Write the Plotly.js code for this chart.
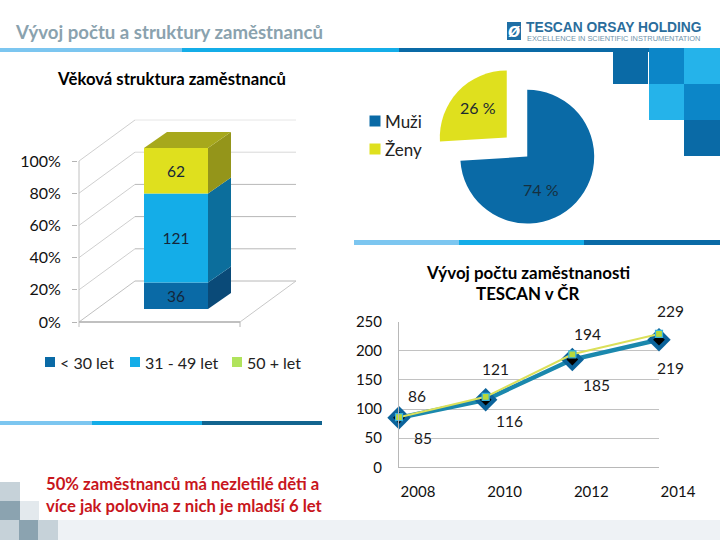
<!DOCTYPE html>
<html><head><meta charset="utf-8">
<script src="https://cdn.plot.ly/plotly-3.0.1.min.js"></script>
<style>html,body{margin:0;padding:0;background:#fff}#c{width:720px;height:540px}</style>
</head><body><div id="c"></div>
<script>
// ---- data ----
var ageGroups = ['< 30 let', '31 - 49 let', '50 + let'];
var ageCounts = [36, 121, 62];
var genderLabels = ['Muži', 'Ženy'];
var genderShares = [74, 26];
var genderText = ['74 %', '26 %'];
var years = ['2008', '2010', '2012', '2014'];
var lowerSeries = [85, 116, 185, 219];
var upperSeries = [86, 121, 194, 229];
var yTicksPct = [0, 20, 40, 60, 80, 100];
var yTicksCount = [0, 50, 100, 150, 200, 250];

// ---- styles ----
var F = 'Lato, "Open Sans", sans-serif';
var DARK = '#0a6aa6', CYAN = '#14ade8', LIGHT = '#7cc6f0', MID = '#0c86c8', SKY = '#25b3ea';
var YEL = '#dfe01e', LIME = '#b0e35c';
var W = 720, H = 540;
function px(v) { return v / W; }
function py(v) { return 1 - v / H; }
function rect(x0, y0, x1, y1, c) {
  return {type: 'rect', xref: 'paper', yref: 'paper', x0: px(x0), x1: px(x1), y0: py(y0), y1: py(y1),
    fillcolor: c, line: {width: 0}, layer: 'below'};
}
var shapes = [];
shapes.push(rect(0, 520, 720, 540, '#eef2f5'));
[[0,482,20,501,'#c6d2d9'],[0,501,20,520,'#8ba3b0'],[20,501,39,520,'#e3e9ed'],
 [0,520,19,540,'#c6d2d9'],[19,520,38,540,'#8ba3b0'],[38,520,58,540,'#c6d2d9'],
 [0,48,182,52,LIGHT],[182,48,399,52,CYAN],[399,48,720,52,DARK],
 [354,240,459,245,LIGHT],[459,240,584,245,CYAN],[584,240,720,245,DARK],
 [0,421,92,425,LIGHT],[92,421,202,425,CYAN],[202,421,322,425,'#12648f'],
 [613,48,648,84,DARK],[649,48,684,84,MID],[684,48,720,84,SKY],
 [649,84,684,120,SKY],[684,84,720,120,MID],[684,120,720,156,DARK],
 [507,22,521,40,'#1f6fa5']].forEach(function (s) {
  shapes.push(rect(s[0], s[1], s[2], s[3], s[4]));
});

// ---- oblique box of the stacked chart: x units are pixels from the front left corner, y units are percent ----
var boxL = 78, boxR = 297, boxT = 119, boxB = 329, zeroPx = 322;
var pctPx = 1.61, tickPct = 5 / pctPx;
var wallDx = 56, wallDy = 41 / pctPx, frontW = 161;
var barX = 97, barW = 64, barLift = 13 / pctPx, sideDx = 23, sideDy = 16 / pctPx;
var total = ageCounts.reduce(function (a, b) { return a + b; }, 0);
var agePct = ageCounts.map(function (c) { return c / total * 100; });
function seg(x0, y0, x1, y1, c, w) {
  return {type: 'line', xref: 'x', yref: 'y', x0: x0, y0: y0, x1: x1, y1: y1, layer: 'below',
    line: {color: c, width: w || 1}};
}
yTicksPct.forEach(function (p) {
  var c = p === 100 ? '#e6e6e6' : (p === 80 ? '#d8d8d8' : '#b8b8b8');
  shapes.push(seg(0, p, wallDx, p + wallDy, p === 0 ? '#c0c0c0' : '#cfcfcf'));
  shapes.push(seg(wallDx, p + wallDy, wallDx + frontW, p + wallDy, c));
});
shapes.push(seg(0, 0, frontW, 0, '#ababab', 1.5));
shapes.push(seg(frontW, 0, frontW + wallDx, wallDy, '#c8c8c8'));
shapes.push(seg(0, -tickPct, 0, 100, '#c0c0c0'));
shapes.push(seg(frontW, -tickPct, frontW, 0, '#b4b4b4'));
var sideColors = ['#0a4a78', '#0c6e9c', '#94951a'];
var faceColors = [DARK, CYAN, YEL];
var cum = 0, barBase = [];
var xr = barX + barW / 2, xl = barX - barW / 2;
function poly(pts, c) {
  var d = pts.map(function (p, i) { return (i ? 'L' : 'M') + p[0] + ',' + p[1]; }).join('') + 'Z';
  return {type: 'path', xref: 'x', yref: 'y', path: d, fillcolor: c, line: {width: 0}, layer: 'below'};
}
agePct.forEach(function (v, i) {
  var b = cum + barLift, t = b + v;
  barBase.push(b);
  shapes.push(poly([[xr, b], [xr + sideDx, b + sideDy], [xr + sideDx, t + sideDy], [xr, t]], sideColors[i]));
  cum += v;
});
var barTop = cum + barLift;
shapes.push(poly([[xl, barTop], [xl + sideDx, barTop + sideDy], [xr + sideDx, barTop + sideDy], [xr, barTop]], '#a7a81c'));

// ---- traces ----
var traces = [];
ageGroups.forEach(function (g, i) {
  traces.push({type: 'bar', x: [barX], y: [agePct[i]], base: [barBase[i]], width: [barW], name: g,
    marker: {color: faceColors[i], line: {width: 0}}, text: [String(ageCounts[i])],
    textposition: 'inside', insidetextanchor: 'middle', textangle: 0,
    textfont: {family: F, size: 15.5, color: '#14263a'}, hoverinfo: 'skip', showlegend: false, xaxis: 'x', yaxis: 'y'});
});
traces.push({type: 'pie', labels: genderLabels, values: genderShares, textinfo: 'none',
  sort: false, direction: 'clockwise', rotation: 0, pull: 0.21,
  domain: {x: [px(436), px(598)], y: [py(228), py(66)]},
  marker: {colors: [DARK, YEL], line: {width: 0}}, showlegend: false, hoverinfo: 'skip'});
traces.push({type: 'scatter', mode: 'lines+markers', x: years, y: lowerSeries, xaxis: 'x2', yaxis: 'y2',
  line: {color: '#1b88ad', width: 4.5}, marker: {symbol: 'diamond', size: 18, color: '#0b639b', line: {width: 0}},
  showlegend: false, cliponaxis: false, hoverinfo: 'skip', name: 'lower'});
traces.push({type: 'scatter', mode: 'markers', x: years, y: lowerSeries, xaxis: 'x2', yaxis: 'y2',
  marker: {symbol: 'diamond', size: 9, color: '#000'}, showlegend: false, cliponaxis: false, hoverinfo: 'skip', name: 'lower inner'});
traces.push({type: 'scatter', mode: 'lines+markers', x: years, y: upperSeries, xaxis: 'x2', yaxis: 'y2',
  line: {color: '#dbe05a', width: 2}, marker: {symbol: 'square', size: 7, color: '#b7d83c', line: {color: '#37b3dc', width: 1.2}},
  showlegend: false, cliponaxis: false, hoverinfo: 'skip', name: 'upper'});

// ---- annotations ----
function note(t, x, y, o) {
  var a = {text: t, xref: 'paper', yref: 'paper', x: px(x), y: py(y), showarrow: false,
    xanchor: 'center', yanchor: 'middle', font: {family: F, size: 15, color: '#111'}};
  for (var k in o) a[k] = o[k];
  return a;
}
var annotations = [
  note('<b>Věková struktura zaměstnanců</b>', 171, 79, {font: {family: F, size: 16.7, color: '#000'}}),
  note('<b>Vývoj počtu zaměstnanosti</b>', 528, 272, {font: {family: F, size: 16.9, color: '#000'}}),
  note('<b>TESCAN v ČR</b>', 528, 293, {font: {family: F, size: 16.9, color: '#000'}}),
  note('<b>50% zaměstnanců má nezletilé děti a</b>', 44, 484, {xanchor: 'left', font: {family: F, size: 16.7, color: '#c8161c'}}),
  note('<b>více jak polovina z nich je mladší 6 let</b>', 44, 506, {xanchor: 'left', font: {family: F, size: 16.7, color: '#c8161c'}}),
  note('<b>TESCAN ORSAY HOLDING</b>', 524, 27, {xanchor: 'left', font: {family: 'Liberation Sans', size: 13.8, color: '#2a6d9c'}}),
  note('EXCELLENCE IN SCIENTIFIC INSTRUMENTATION', 525, 38.5, {xanchor: 'left', font: {family: 'Liberation Sans', size: 7.4, color: '#6f93ab'}}),
  note('<b><i>ø</i></b>', 514, 30, {font: {family: 'Liberation Sans', size: 20, color: '#fff'}}),
  note(genderText[0], 541, 189, {font: {family: F, size: 16, color: '#16303f'}}),
  note(genderText[1], 478, 108, {font: {family: F, size: 16, color: '#1c2a30'}})
];
// legends
var ageSwatch = [45, 130, 232], ageColors = [DARK, CYAN, LIME];
ageGroups.forEach(function (g, i) {
  shapes.push(rect(ageSwatch[i], 357, ageSwatch[i] + 10, 367, ageColors[i]));
  annotations.push(note(g, ageSwatch[i] + 13, 362, {xanchor: 'left', font: {family: F, size: 16, color: '#222'}}));
});
var genderY = [121, 149], genderColors = [DARK, YEL];
genderLabels.forEach(function (g, i) {
  shapes.push(rect(369.5, genderY[i] - 5.5, 380.5, genderY[i] + 5.5, genderColors[i]));
  annotations.push(note(g, 383, genderY[i], {xanchor: 'left', font: {family: F, size: 17, color: '#222'}}));
});
// line chart value labels
var lowDx = [24, 24, 24, 11], lowDy = [-20, -21, -25, -28];
var upDx = [18, 10, 15, 11], upDy = [21, 28, 20, 23];
years.forEach(function (yr, i) {
  annotations.push({text: String(lowerSeries[i]), xref: 'x2', yref: 'y2', x: i, y: lowerSeries[i], showarrow: false,
    xshift: lowDx[i], yshift: lowDy[i], font: {family: F, size: 15.5, color: '#1a1a1a'}});
  annotations.push({text: String(upperSeries[i]), xref: 'x2', yref: 'y2', x: i, y: upperSeries[i], showarrow: false,
    xshift: upDx[i], yshift: upDy[i], font: {family: F, size: 15.5, color: '#1a1a1a'}});
});

var layout = {
  width: W, height: H, autosize: false, margin: {l: 0, r: 0, t: 0, b: 0},
  paper_bgcolor: '#fff', plot_bgcolor: 'rgba(0,0,0,0)', barmode: 'overlay', showlegend: false,
  title: {text: '<b>Vývoj počtu a struktury zaměstnanců</b>', xref: 'paper', yref: 'paper', x: px(16), xanchor: 'left',
    y: py(32), yanchor: 'middle', font: {family: F, size: 18.6, color: '#8aa2ae'}},
  xaxis: {domain: [px(boxL), px(boxR)], range: [boxL - 79, boxR - 79], anchor: 'y', showgrid: false, zeroline: false,
    showticklabels: false, ticks: '', showline: false},
  yaxis: {domain: [py(boxB), py(boxT)], range: [(zeroPx - boxB) / pctPx, (zeroPx - boxT) / pctPx], anchor: 'x', showgrid: false, zeroline: false,
    tickvals: yTicksPct, ticktext: yTicksPct.map(function (p) { return p + '%'; }), ticks: 'outside', ticklen: 5,
    tickcolor: '#b4b4b4', ticklabelstandoff: 8, tickfont: {family: F, size: 16, color: '#111'}, showline: false},
  xaxis2: {domain: [px(399), px(659)], range: [0, 3], type: 'category', anchor: 'y2', categoryorder: 'array', categoryarray: years,
    showgrid: false, zeroline: false, showline: true, linecolor: '#b8b8b8', ticks: '', ticklabelshift: 19, ticklabelstandoff: 11,
    tickfont: {family: F, size: 15, color: '#111'}},
  yaxis2: {domain: [py(467.3), py(321.7)], range: [0, 250], anchor: 'x2', tickvals: yTicksCount, showgrid: true, gridcolor: '#c2c2c2',
    zeroline: false, showline: true, linecolor: '#b8b8b8', ticks: '', ticklabelstandoff: 13, tickfont: {family: F, size: 15, color: '#111'}},
  shapes: shapes, annotations: annotations
};
Plotly.newPlot('c', traces, layout, {displayModeBar: false, staticPlot: true});
</script></body></html>
